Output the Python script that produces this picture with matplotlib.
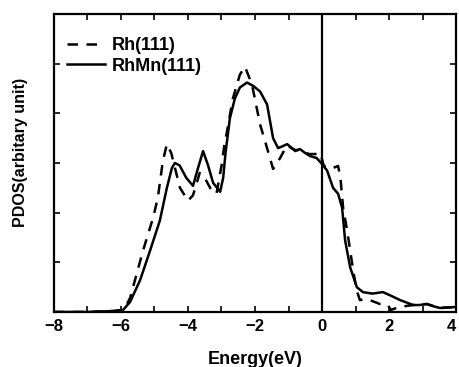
import matplotlib
matplotlib.use("Agg")
import matplotlib.pyplot as plt
from matplotlib.ticker import MultipleLocator

plt.rcParams['font.family'] = ['Liberation Sans', 'DejaVu Sans']
plt.rcParams['font.weight'] = 'bold'

# Rh(111) d-band PDOS (dashed)
rh_e = [-8, -7, -6.6, -6.2, -6.0, -5.85, -5.73, -5.34, -5.04, -4.9, -4.75, -4.63,
        -4.5, -4.24, -4.0, -3.85, -3.65, -3.5, -3.3, -3.15, -2.99, -2.9, -2.85,
        -2.66, -2.45, -2.3, -2.09, -1.85, -1.64, -1.46, -1.25, -1.05, -0.8, -0.6,
        -0.4, -0.2, -0.05, 0.05, 0.15, 0.33, 0.48, 0.55, 0.63, 0.75, 0.84, 0.93,
        1.03, 1.13, 1.34, 1.5, 1.73, 1.97, 2.05, 2.3, 2.72, 3.13, 3.52, 4.0]
rh_dos = [0, 0, 0.01, 0.02, 0.04, 0.12, 0.28, 1.24, 1.9, 2.3, 3.04, 3.38,
          3.2, 2.5, 2.24, 2.35, 2.8, 2.7, 2.45, 2.38, 2.98, 3.44, 3.58,
          4.3, 4.78, 4.94, 4.58, 3.78, 3.3, 2.88, 3.1, 3.35, 3.26, 3.26,
          3.18, 3.18, 3.2, 2.95, 2.9, 2.9, 2.94, 2.7, 2.1, 1.64, 1.24, 0.84,
          0.45, 0.24, 0.26, 0.22, 0.16, 0.14, 0.04, 0.1, 0.14, 0.16, 0.08, 0.1]

# RhMn(111) d-band PDOS (solid)
rhmn_e = [-8, -7, -6.6, -6.2, -5.94, -5.73, -5.43, -5.13, -4.84, -4.63, -4.48,
          -4.39, -4.25, -4.05, -3.85, -3.7, -3.55, -3.4, -3.25, -3.04, -2.95,
          -2.88, -2.75, -2.6, -2.45, -2.24, -2.05, -1.85, -1.64, -1.46, -1.31,
          -1.2, -1.04, -0.9, -0.8, -0.66, -0.5, -0.36, -0.16, 0, 0.15, 0.33,
          0.48, 0.6, 0.69, 0.84, 1.04, 1.22, 1.5, 1.82, 2.05, 2.33, 2.72, 2.9,
          3.13, 3.3, 3.52, 3.7, 4.0]
rhmn_dos = [0, 0, 0.01, 0.02, 0.04, 0.2, 0.64, 1.24, 1.84, 2.5, 2.9,
            3.0, 2.95, 2.7, 2.54, 2.9, 3.24, 2.95, 2.6, 2.42, 2.7,
            3.2, 3.9, 4.3, 4.52, 4.62, 4.55, 4.44, 4.18, 3.5, 3.3,
            3.33, 3.38, 3.3, 3.24, 3.28, 3.2, 3.14, 3.1, 2.98, 2.85, 2.5,
            2.38, 2.1, 1.44, 0.9, 0.5, 0.4, 0.37, 0.4, 0.33, 0.24, 0.14, 0.14,
            0.16, 0.12, 0.08, 0.09, 0.1]

xticks = [-8, -6, -4, -2, 0, 2, 4]

fig = plt.figure(figsize=(4.59, 3.67), dpi=100)
ax = fig.add_axes([0.1176, 0.1499, 0.8759, 0.812])

ax.plot(rh_e, rh_dos, color='black', lw=1.8, linestyle=(0, (4.2, 3.4)), label='Rh(111)')
ax.plot(rhmn_e, rhmn_dos, color='black', lw=1.8, label='RhMn(111)')
ax.axvline(0, color='black', lw=1.6)

ax.set_xlim(-8, 4)
ax.set_ylim(0, 6)
ax.set_xticks(xticks)
ax.xaxis.set_minor_locator(MultipleLocator(1))
ax.yaxis.set_major_locator(MultipleLocator(1))
ax.set_yticklabels([])
ax.tick_params(which='both', direction='in', top=True, right=True,
               length=4.5, width=1.2, labelsize=12, pad=5)
for s in ax.spines.values():
    s.set_linewidth(1.6)

# keep the last x label inside the figure
ax.xaxis.get_major_ticks()[-1].label1.set_horizontalalignment('right')

ax.set_xlabel('Energy(eV)', fontsize=13, fontweight='bold', labelpad=12)
ax.set_ylabel('PDOS(arbitary unit)', fontsize=11.5, fontweight='bold')
ax.yaxis.set_label_coords(-0.065, 0.534)

ax.legend(loc='upper left', frameon=False, fontsize=13, handlelength=2.1,
          handletextpad=0.4, borderaxespad=0.3, labelspacing=0.2,
          bbox_to_anchor=(0.0, 0.965))

fig.savefig('out.png', dpi=100)
